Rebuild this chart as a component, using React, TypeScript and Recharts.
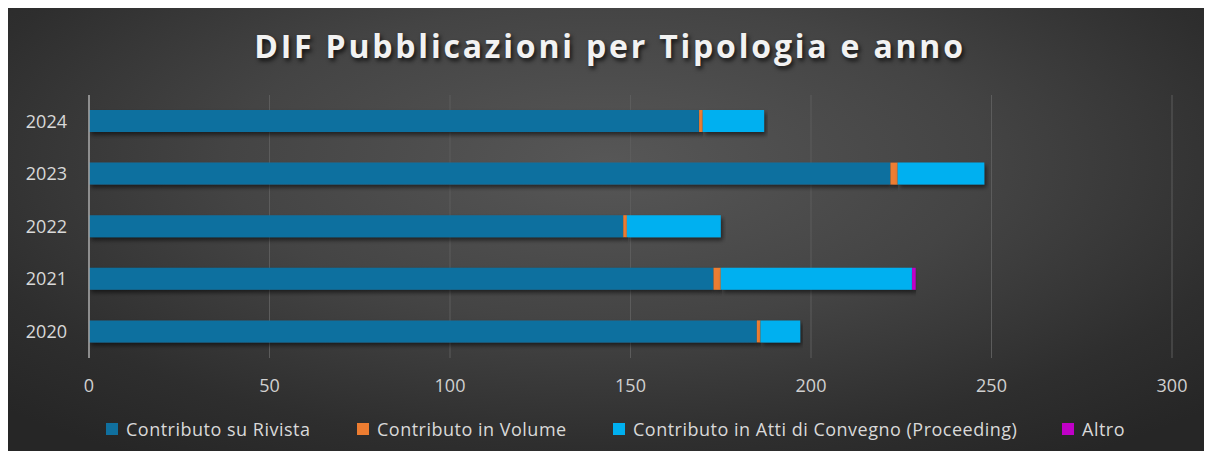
import React from "react";
import { BarChart, Bar, XAxis, YAxis, CartesianGrid } from "recharts";

const years = ["2024", "2023", "2022", "2021", "2020"];
const rivista = [169, 222, 148, 173, 185];
const volume = [1, 2, 1, 2, 1];
const atti = [17, 24, 26, 53, 11];
const altro = [0, 0, 0, 1, 0];
const xTicks = [0, 50, 100, 150, 200, 250, 300];

const SERIES = [
  { key: "rivista", name: "Contributo su Rivista", color: "#10709f" },
  { key: "volume", name: "Contributo in Volume", color: "#ed7d31" },
  { key: "atti", name: "Contributo in Atti di Convegno (Proceeding)", color: "#00b0f0" },
  { key: "altro", name: "Altro", color: "#c000c8" },
];

const data = years.map((year, i) => ({
  year,
  rivista: rivista[i],
  volume: volume[i],
  atti: atti[i],
  altro: altro[i],
}));

const W = 1198;
const H = 443;
const FONT = "'Open Sans', sans-serif";
// legend marker x offsets, Excel-style fixed slots
const LEGEND_X = [98, 349, 605, 1054];

export default function App() {
  return (
    <div
      style={{
        position: "relative",
        width: W,
        height: H,
        fontFamily: FONT,
        background:
          "radial-gradient(ellipse 70% 80% at 50% 35%, #575757 0%, #444 45%, #2e2e2e 80%, #262626 100%)",
      }}
    >
      <div
        style={{
          position: "absolute",
          top: 16,
          left: 3,
          width: W,
          textAlign: "center",
          color: "#f2f2f2",
          fontSize: 32,
          fontWeight: 700,
          letterSpacing: 2.8,
          textShadow: "2px 3px 4px rgba(0,0,0,0.7)",
        }}
      >
        DIF Pubblicazioni per Tipologia e anno
      </div>

      <div style={{ position: "absolute", top: 0, left: 0 }}>
        <BarChart
          width={W}
          height={H}
          data={data}
          layout="vertical"
          margin={{ top: 87, right: 34, left: 0, bottom: 63 }}
        >
          <defs>
            <filter id="barShadow" x="-5%" y="-30%" width="110%" height="180%">
              <feDropShadow dx="2" dy="3" stdDeviation="2" floodColor="#000" floodOpacity="0.55" />
            </filter>
          </defs>
          <CartesianGrid horizontal={false} stroke="#5c5c5c" />
          <XAxis
            type="number"
            domain={[0, 300]}
            ticks={xTicks}
            axisLine={false}
            tickLine={false}
            tickMargin={15}
            height={30}
            tick={{ fill: "#d0d0d0", fontSize: 18, fontFamily: FONT }}
          />
          <YAxis
            type="category"
            dataKey="year"
            width={81}
            axisLine={{ stroke: "#a6a6a6", strokeWidth: 1.5 }}
            tickLine={false}
            tickMargin={16}
            tick={{ fill: "#d9d9d9", fontSize: 18, fontFamily: FONT }}
          />
          {SERIES.map((s) => (
            <Bar
              key={s.key}
              dataKey={s.key}
              name={s.name}
              stackId="a"
              fill={s.color}
              barSize={22}
              filter="url(#barShadow)"
              isAnimationActive={false}
            />
          ))}
        </BarChart>
      </div>

      {SERIES.map((s, i) => (
        <div
          key={s.key}
          style={{
            position: "absolute",
            top: 409,
            left: LEGEND_X[i],
            display: "flex",
            alignItems: "center",
            gap: 8,
            color: "#d9d9d9",
            fontSize: 18,
            letterSpacing: 0.5,
            whiteSpace: "nowrap",
          }}
        >
          <span style={{ display: "inline-block", width: 12, height: 12, background: s.color }} />
          <span>{s.name}</span>
        </div>
      ))}
    </div>
  );
}
